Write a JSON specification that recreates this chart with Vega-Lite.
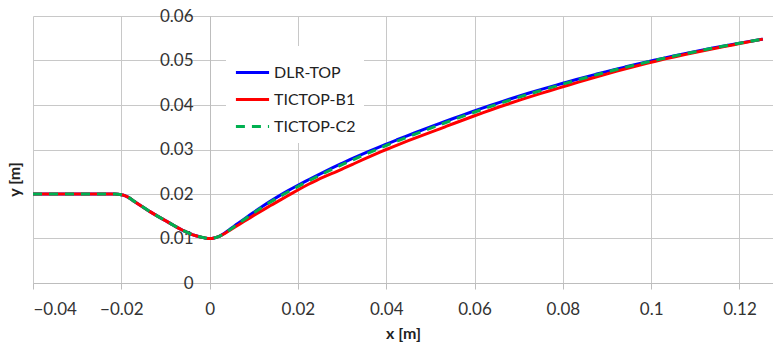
{
  "$schema": "https://vega.github.io/schema/vega-lite/v6.json",
  "width": 740,
  "height": 267,
  "autosize": "none",
  "padding": {"left": 33, "top": 16, "right": 0, "bottom": 62},
  "background": "white",
  "config": {
    "view": {"stroke": null},
    "font": "Lato",
    "axis": {
      "gridColor": "#C8C8C8",
      "gridWidth": 1,
      "domainColor": "#BDBDBD",
      "tickColor": "#BDBDBD",
      "labelColor": "#333333",
      "labelFont": "Lato",
      "labelFontSize": 17,
      "titleFont": "Lato",
      "titleFontSize": 16,
      "titleFontWeight": "bold",
      "titleColor": "#222222"
    },
    "legend": {
      "labelFont": "Lato",
      "labelFontSize": 16,
      "labelColor": "#222222"
    }
  },
  "data": {
    "values": [
      {"s": "DLR-TOP", "x": -0.04, "y": 0.02},
      {"s": "DLR-TOP", "x": -0.0215, "y": 0.02},
      {"s": "DLR-TOP", "x": -0.02, "y": 0.01985},
      {"s": "DLR-TOP", "x": -0.0185, "y": 0.0193},
      {"s": "DLR-TOP", "x": -0.017, "y": 0.0183},
      {"s": "DLR-TOP", "x": -0.0136, "y": 0.0161},
      {"s": "DLR-TOP", "x": -0.0098, "y": 0.0139},
      {"s": "DLR-TOP", "x": -0.006, "y": 0.0118},
      {"s": "DLR-TOP", "x": -0.004, "y": 0.0109},
      {"s": "DLR-TOP", "x": -0.0025, "y": 0.01045},
      {"s": "DLR-TOP", "x": -0.0012, "y": 0.01015},
      {"s": "DLR-TOP", "x": 0, "y": 0.01},
      {"s": "DLR-TOP", "x": 0.001, "y": 0.0101},
      {"s": "DLR-TOP", "x": 0.002, "y": 0.0104},
      {"s": "DLR-TOP", "x": 0.003, "y": 0.01095},
      {"s": "DLR-TOP", "x": 0.0045, "y": 0.012},
      {"s": "DLR-TOP", "x": 0.0063, "y": 0.0133},
      {"s": "DLR-TOP", "x": 0.01, "y": 0.0159},
      {"s": "DLR-TOP", "x": 0.0138, "y": 0.0184},
      {"s": "DLR-TOP", "x": 0.0175, "y": 0.0206},
      {"s": "DLR-TOP", "x": 0.0224, "y": 0.0232},
      {"s": "DLR-TOP", "x": 0.03, "y": 0.0269},
      {"s": "DLR-TOP", "x": 0.04, "y": 0.0312},
      {"s": "DLR-TOP", "x": 0.052, "y": 0.0358},
      {"s": "DLR-TOP", "x": 0.0657, "y": 0.0406},
      {"s": "DLR-TOP", "x": 0.08, "y": 0.0449},
      {"s": "DLR-TOP", "x": 0.1, "y": 0.0499},
      {"s": "DLR-TOP", "x": 0.12, "y": 0.0539},
      {"s": "DLR-TOP", "x": 0.1253, "y": 0.0548},
      {"s": "TICTOP-B1", "x": -0.04, "y": 0.02},
      {"s": "TICTOP-B1", "x": -0.0215, "y": 0.02},
      {"s": "TICTOP-B1", "x": -0.02, "y": 0.01985},
      {"s": "TICTOP-B1", "x": -0.0185, "y": 0.0193},
      {"s": "TICTOP-B1", "x": -0.017, "y": 0.0183},
      {"s": "TICTOP-B1", "x": -0.0136, "y": 0.0161},
      {"s": "TICTOP-B1", "x": -0.0098, "y": 0.0139},
      {"s": "TICTOP-B1", "x": -0.006, "y": 0.0118},
      {"s": "TICTOP-B1", "x": -0.004, "y": 0.0109},
      {"s": "TICTOP-B1", "x": -0.0025, "y": 0.01045},
      {"s": "TICTOP-B1", "x": -0.0012, "y": 0.01015},
      {"s": "TICTOP-B1", "x": 0, "y": 0.01},
      {"s": "TICTOP-B1", "x": 0.001, "y": 0.0101},
      {"s": "TICTOP-B1", "x": 0.002, "y": 0.0104},
      {"s": "TICTOP-B1", "x": 0.003, "y": 0.0109},
      {"s": "TICTOP-B1", "x": 0.0045, "y": 0.0118},
      {"s": "TICTOP-B1", "x": 0.0063, "y": 0.0129},
      {"s": "TICTOP-B1", "x": 0.01, "y": 0.0152},
      {"s": "TICTOP-B1", "x": 0.0138, "y": 0.0174},
      {"s": "TICTOP-B1", "x": 0.0175, "y": 0.0195},
      {"s": "TICTOP-B1", "x": 0.0224, "y": 0.0222},
      {"s": "TICTOP-B1", "x": 0.03, "y": 0.0256},
      {"s": "TICTOP-B1", "x": 0.04, "y": 0.03},
      {"s": "TICTOP-B1", "x": 0.052, "y": 0.0346},
      {"s": "TICTOP-B1", "x": 0.0657, "y": 0.0396},
      {"s": "TICTOP-B1", "x": 0.08, "y": 0.0441},
      {"s": "TICTOP-B1", "x": 0.1, "y": 0.0496},
      {"s": "TICTOP-B1", "x": 0.12, "y": 0.0538},
      {"s": "TICTOP-B1", "x": 0.1253, "y": 0.0548},
      {"s": "TICTOP-C2", "x": -0.04, "y": 0.02},
      {"s": "TICTOP-C2", "x": -0.0215, "y": 0.02},
      {"s": "TICTOP-C2", "x": -0.02, "y": 0.01985},
      {"s": "TICTOP-C2", "x": -0.0185, "y": 0.0193},
      {"s": "TICTOP-C2", "x": -0.017, "y": 0.0183},
      {"s": "TICTOP-C2", "x": -0.0136, "y": 0.0161},
      {"s": "TICTOP-C2", "x": -0.0098, "y": 0.0139},
      {"s": "TICTOP-C2", "x": -0.006, "y": 0.0118},
      {"s": "TICTOP-C2", "x": -0.004, "y": 0.0109},
      {"s": "TICTOP-C2", "x": -0.0025, "y": 0.01045},
      {"s": "TICTOP-C2", "x": -0.0012, "y": 0.01015},
      {"s": "TICTOP-C2", "x": 0, "y": 0.01},
      {"s": "TICTOP-C2", "x": 0.001, "y": 0.0101},
      {"s": "TICTOP-C2", "x": 0.002, "y": 0.0104},
      {"s": "TICTOP-C2", "x": 0.003, "y": 0.01094},
      {"s": "TICTOP-C2", "x": 0.0045, "y": 0.0119},
      {"s": "TICTOP-C2", "x": 0.0063, "y": 0.0132},
      {"s": "TICTOP-C2", "x": 0.01, "y": 0.01575},
      {"s": "TICTOP-C2", "x": 0.0138, "y": 0.0182},
      {"s": "TICTOP-C2", "x": 0.0175, "y": 0.02033},
      {"s": "TICTOP-C2", "x": 0.0224, "y": 0.02295},
      {"s": "TICTOP-C2", "x": 0.03, "y": 0.02658},
      {"s": "TICTOP-C2", "x": 0.04, "y": 0.0309},
      {"s": "TICTOP-C2", "x": 0.052, "y": 0.0355},
      {"s": "TICTOP-C2", "x": 0.0657, "y": 0.04035},
      {"s": "TICTOP-C2", "x": 0.08, "y": 0.0447},
      {"s": "TICTOP-C2", "x": 0.1, "y": 0.04985},
      {"s": "TICTOP-C2", "x": 0.12, "y": 0.05388},
      {"s": "TICTOP-C2", "x": 0.1253, "y": 0.0548}
    ]
  },
  "mark": {"type": "line", "strokeWidth": 3, "interpolate": "monotone", "clip": true, "strokeCap": "butt"},
  "encoding": {
    "x": {
      "field": "x",
      "type": "quantitative",
      "title": "x [m]",
      "scale": {"domain": [-0.04, 0.1276], "nice": false, "zero": false},
      "axis": {
        "values": [-0.04, -0.02, 0, 0.02, 0.04, 0.06, 0.08, 0.1, 0.12],
        "format": "~g",
        "tickSize": 6,
        "labelPadding": 12,
        "titlePadding": 8,
        "grid": true
      }
    },
    "y": {
      "field": "y",
      "type": "quantitative",
      "title": "y [m]",
      "scale": {"domain": [0, 0.06], "nice": false},
      "axis": {
        "values": [0, 0.01, 0.02, 0.03, 0.04, 0.05, 0.06],
        "format": "~g",
        "offset": -177,
        "ticks": false,
        "labelPadding": 17,
        "titleX": -188,
        "titleY": 163,
        "grid": true
      }
    },
    "color": {
      "field": "s",
      "type": "nominal",
      "title": null,
      "scale": {"domain": ["DLR-TOP", "TICTOP-B1", "TICTOP-C2"], "range": ["#0000FF", "#FF0000", "#00B050"]},
      "legend": {
        "orient": "none",
        "legendX": 193,
        "legendY": 30,
        "fillColor": "white",
        "padding": 8,
        "symbolType": "stroke",
        "symbolSize": 1100,
        "symbolStrokeWidth": 3,
        "labelOffset": 3,
        "rowPadding": -5
      }
    },
    "strokeDash": {
      "field": "s",
      "type": "nominal",
      "title": null,
      "scale": {"domain": ["DLR-TOP", "TICTOP-B1", "TICTOP-C2"], "range": [[10, 0], [10, 0], [9, 7]]},
      "legend": {
        "orient": "none",
        "legendX": 193,
        "legendY": 30
      }
    }
  }
}
